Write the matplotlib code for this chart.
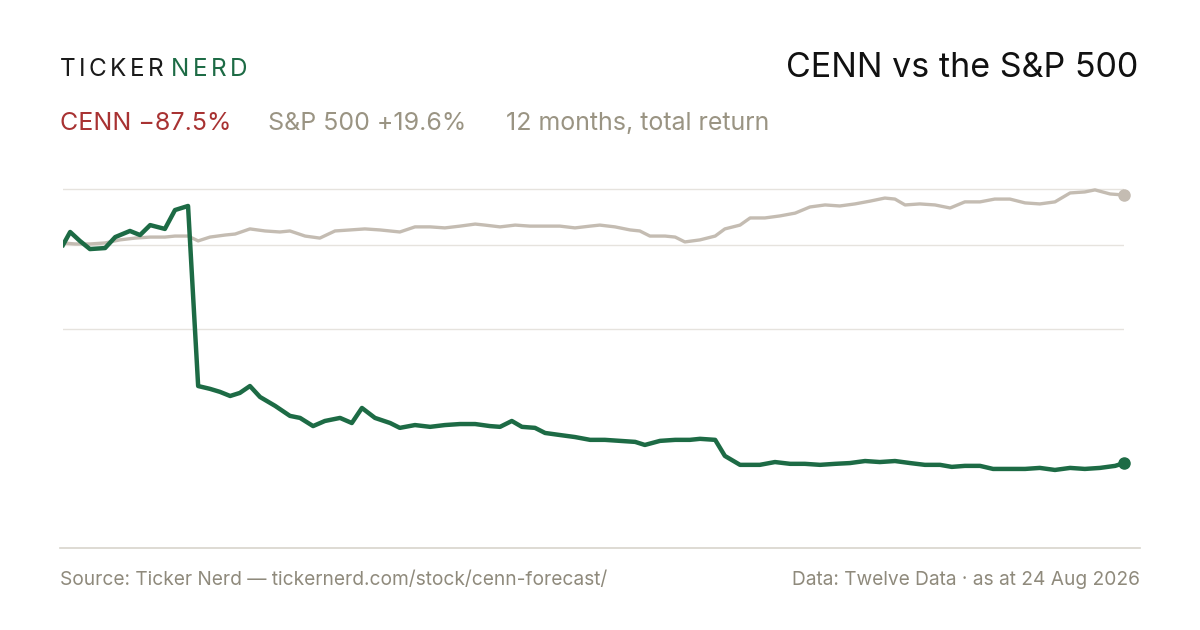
import matplotlib.pyplot as plt
from matplotlib.lines import Line2D

plt.rcParams['font.family'] = ['Inter', 'DejaVu Sans']

# trading-day offsets and index levels (start = 100)
cenn_days = [0, 1.7, 4, 6.4, 10, 12.4, 15.9, 18.3, 20.7, 24.2, 26.6, 29.7, 32.1, 34.9, 37.3,
             39.7, 42, 44.4, 46.8, 50.4, 53.9, 56.3, 59.4, 62.2, 65.8, 68.6, 71, 74.1, 77.7,
             80, 83.6, 87.2, 90.7, 94.3, 97.9, 101.4, 103.8, 106.6, 109, 112.1, 114.5, 118,
             121.6, 125.2, 128.7, 132.3, 135.9, 138.2, 141.8, 145.4, 148.9, 151.3, 154.9,
             157.2, 160.8, 165.5, 169.1, 172.7, 176.2, 179.8, 183.4, 186.9, 190.5, 194,
             197.6, 201.2, 204.7, 208.3, 211.1, 214.2, 217.8, 220.9, 224.9, 228.5, 232,
             235.6, 239.2, 242.7, 246.3, 249.9, 252]
cenn_vals = [100, 105.1, 101.6, 98.4, 98.8, 103.1, 105.5, 103.9, 107.8, 106.3, 113.7, 115.3,
             44.7, 43.6, 42.4, 40.8, 42.0, 44.7, 40.4, 36.9, 33.0, 32.2, 29.0, 31.0, 32.2,
             30.2, 36.1, 32.2, 30.2, 28.3, 29.4, 28.7, 29.4, 29.8, 29.8, 29.0, 28.7, 31.0,
             28.7, 28.3, 26.3, 25.5, 24.7, 23.6, 23.6, 23.2, 22.8, 21.6, 23.2, 23.6, 23.6,
             24.0, 23.6, 17.3, 13.8, 13.8, 14.9, 14.2, 14.2, 13.8, 14.2, 14.5, 15.3, 14.9,
             15.3, 14.5, 13.8, 13.8, 13.0, 13.4, 13.4, 12.2, 12.2, 12.2, 12.6, 11.8, 12.6,
             12.2, 12.6, 13.4, 14.5]

spx_days = [0, 2.9, 6.4, 10, 13.5, 17.1, 20.7, 24.2, 26.6, 29.7, 32.1, 34.9, 38.5, 40.9,
            44.4, 48, 51.5, 53.9, 57.5, 61, 64.6, 68.2, 71.7, 75.3, 80, 83.6, 87.2, 90.7,
            94.3, 97.9, 100.2, 103.8, 107.4, 110.9, 114.5, 118, 121.6, 125.2, 127.5, 131.1,
            134.7, 137, 139.4, 143, 145.4, 147.7, 151.3, 154.9, 157.2, 160.8, 163.2, 166.7,
            170.3, 173.9, 177.4, 181, 184.5, 188.1, 191.7, 195.2, 197.6, 200, 203.5, 207.1,
            210.7, 214.2, 217.8, 221.3, 224.9, 228.5, 232, 235.6, 239.2, 242.7, 245.1,
            248.7, 252]
spx_vals = [100.8, 100.4, 100.4, 100.8, 102.0, 102.7, 103.1, 103.1, 103.5, 103.5, 101.6,
            103.1, 103.9, 104.3, 106.3, 105.5, 105.1, 105.5, 103.5, 102.7, 105.5, 105.9,
            106.3, 105.9, 105.1, 107.1, 107.1, 106.7, 107.4, 108.2, 107.8, 107.1, 107.8,
            107.4, 107.4, 107.4, 106.7, 107.4, 107.8, 107.1, 105.9, 105.5, 103.5, 103.5,
            103.1, 101.2, 102.0, 103.5, 106.3, 107.8, 110.6, 110.6, 111.4, 112.5, 114.9,
            115.7, 115.3, 116.1, 117.2, 118.4, 118.0, 115.7, 116.1, 115.7, 114.5, 116.9,
            116.9, 118.0, 118.0, 116.5, 116.1, 116.9, 120.4, 120.8, 121.6, 120.0, 119.6]

grid_levels = [122, 100, 67.1]

GREEN = '#1d6b45'
SAND = '#c4bcb2'
GREY = '#8f8a7c'
RED = '#a83232'

W, H = 1200, 630
fig = plt.figure(figsize=(12, 6.3), dpi=100)
ax = fig.add_axes([63 / W, 1 - 548 / H, (1124 - 63) / W, (548 - 170) / H])
ax.set_xlim(0, 252)
ax.set_ylim(-18.8, 129.4)
ax.axis('off')

for g in grid_levels:
    ax.axhline(g, color='#e6e3de', lw=1, zorder=0)

ax.plot(spx_days, spx_vals, color=SAND, lw=2.4, solid_joinstyle='round', zorder=2)
ax.plot(spx_days[-1], spx_vals[-1], 'o', color=SAND, ms=8, zorder=3, clip_on=False)
ax.plot(cenn_days, cenn_vals, color=GREEN, lw=3.2, solid_joinstyle='round', zorder=4)
ax.plot(cenn_days[-1], cenn_vals[-1], 'o', color=GREEN, ms=8, zorder=5, clip_on=False)

fig.add_artist(Line2D([60 / W, 1140 / W], [1 - 548 / H] * 2, color='#d8d4cc', lw=1.2))

# header: letter-spaced wordmark
x = 60
renderer = fig.canvas.get_renderer()
for word, col in [('TICKER', '#1a1a1a'), ('NERD', GREEN)]:
    for ch in word:
        t = fig.text(x / W, 1 - 70 / H, ch, color=col, fontsize=17.5, va='center')
        x += t.get_window_extent(renderer=renderer).width + 3.4
    x += 4

fig.text(1138 / W, 1 - 68 / H, 'CENN vs the S&P 500', color='#111111', fontsize=24.5,
         ha='right', va='center')
fig.text(60 / W, 1 - 124 / H, 'CENN \u221287.5%', color=RED, fontsize=18, va='center')
fig.text(268 / W, 1 - 124 / H, 'S&P 500 +19.6%', color='#9a9483', fontsize=18, va='center')
fig.text(506 / W, 1 - 124 / H, '12 months, total return', color='#9a9483', fontsize=18,
         va='center')

# footer
fig.text(60 / W, 1 - 580 / H, 'Source: Ticker Nerd \u2014 tickernerd.com/stock/cenn-forecast/',
         color=GREY, fontsize=13.8, va='center')
fig.text(1140 / W, 1 - 580 / H, 'Data: Twelve Data \u00b7 as at 24 Aug 2026', color=GREY,
         fontsize=13.8, ha='right', va='center')

fig.savefig('out.png', dpi=100, facecolor='white')
